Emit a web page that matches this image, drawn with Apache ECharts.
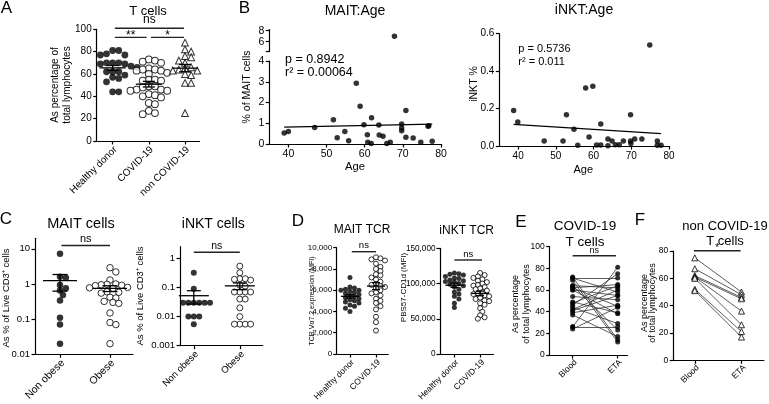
<!DOCTYPE html>
<html><head><meta charset="utf-8">
<script src="https://cdn.jsdelivr.net/npm/echarts@6/dist/echarts.min.js"></script>
<style>html,body{margin:0;padding:0;background:#fff}#c{width:769px;height:404px}</style>
</head><body><div id="c"></div><script>
// ---------------- DATA ----------------
const tcellCats = ['Healthy donor', 'COVID-19', 'non COVID-19'];
const tcellHealthy = [81, 81, 78, 77, 77, 70, 70, 70, 69, 69, 67, 66, 66, 66, 62, 62, 62, 59, 57, 56, 53, 44, 44];
const tcellCovid = [73, 72, 71, 70, 65, 64, 64, 63, 63, 61, 60, 55, 55, 54, 54, 49, 49, 48, 46, 46, 45, 45, 42, 41, 40, 39, 34, 33, 27, 25, 24];
const tcellNonCovid = [88, 82, 80, 76, 75, 72, 70, 66, 65, 64, 63, 63, 62, 60, 59, 52, 52, 25];

const maitAges = [38.9, 40, 46.9, 51.8, 52.8, 54.8, 55.8, 57.8, 58.8, 59.8, 60.7, 60.8, 61.7, 61.8, 63.7, 63.8, 64.8, 65.8, 66.7, 67.8, 69.7, 69.7, 69.7, 70.8, 70.8, 72.7, 74.7, 76.6, 76.8, 77.7];
const maitPct = [0.53, 0.6, 0.8, 1.17, 0.3, 0.6, 0.16, 2.93, 1.82, 0.93, 0.45, 0.08, 0.02, 1.26, 0.91, 0.43, 0.37, 0.02, 0.08, 7.0, 0.96, 0.77, 0.64, 1.62, 0.32, 0.29, 0.08, 0.85, 0.88, 0.13];
const inktAges = [38.8, 39.9, 46.9, 51.9, 52.8, 54.8, 55.8, 57.9, 58.8, 59.8, 60.8, 61.9, 61.9, 63.8, 63.8, 64.9, 65.8, 66.8, 67.9, 69.8, 69.8, 69.9, 70.9, 72.8, 74.9, 76.9, 76.9, 77.9];
const inktPct = [0.19, 0.128, 0.027, 0.027, 0.167, 0.089, 0.004, 0.31, 0.048, 0.319, 0.005, 0.005, 0.117, 0.037, 0.002, 0.027, 0.007, 0.007, 0.027, 0.167, 0.027, 0.014, 0.037, 0.037, 0.54, 0.027, 0.004, 0.004];
const maitStats = ['p = 0.8942', 'r² = 0.00064'];
const inktStats = ['p = 0.5736', 'r² = 0.011'];

const obeseCats = ['Non obese', 'Obese'];
const maitNonObese = [7.2, 1.6, 1.5, 0.94, 0.76, 0.65, 0.49, 0.34, 0.11, 0.07, 0.02];
const maitObese = [2.9, 2.2, 1.3, 1.0, 0.98, 0.95, 0.92, 0.9, 0.8, 0.78, 0.75, 0.6, 0.58, 0.55, 0.42, 0.4, 0.32, 0.3, 0.28, 0.15, 0.08, 0.07, 0.02];
const inktNonObese = [0.32, 0.09, 0.03, 0.03, 0.03, 0.03, 0.03, 0.03, 0.01, 0.01, 0.01, 0.0055];
const inktObese = [0.54, 0.32, 0.2, 0.19, 0.18, 0.2, 0.12, 0.11, 0.07, 0.07, 0.07, 0.07, 0.04, 0.04, 0.02, 0.01, 0.0055, 0.0055, 0.0055, 0.0055];

const tcrCats = ['Healthy donor', 'COVID-19'];
const maitTcrHealthy = [7200, 6300, 6200, 6100, 6000, 6000, 5900, 5800, 5700, 5600, 5500, 5400, 5300, 5200, 5100, 5000, 4900, 4800, 4600, 4500, 4300, 4000];
const maitTcrCovid = [9100, 9000, 8900, 8800, 8500, 8200, 8000, 7800, 7500, 7400, 7200, 7000, 6800, 6600, 6500, 6400, 6300, 6200, 6000, 5800, 5700, 5500, 5200, 5000, 4800, 4500, 4200, 3500, 3000, 2200];
const inktTcrHealthy = [115000, 114000, 113000, 112000, 110000, 108000, 107000, 105000, 104000, 103000, 102000, 100000, 99000, 97000, 95000, 92000, 88000, 85000, 82000, 78000, 72000, 66000];
const inktTcrCovid = [115000, 112000, 110000, 108000, 106000, 104000, 102000, 100000, 98000, 97000, 95000, 93000, 92000, 90000, 88000, 86000, 85000, 83000, 82000, 80000, 78000, 76000, 75000, 72000, 70000, 65000, 60000, 55000, 52000, 50000];

const pairCats = ['Blood', 'ETA'];
const covidBlood = [72, 71, 69, 64, 62, 60, 62, 54, 49, 46, 44, 42, 39, 37, 26, 24, 48, 64, 71, 41, 26, 60];
const covidEta = [14, 58, 12, 62, 65, 55, 45, 51, 39, 75, 29, 60, 46, 17, 81, 44, 64, 23, 71, 55, 26, 38];
const nonCovidBlood = [75, 67, 62, 61, 61, 60, 52, 51];
const nonCovidEta = [50, 48, 46, 45, 36, 26, 21, 17];

// ---------------- BUILD ----------------
const FONT = '"Liberation Sans", Arial, Helvetica, sans-serif';
const grids = [], xAxes = [], yAxes = [], series = [], graphics = [];
const AX = { color: '#000', width: 1.2 };

function meanSem(v) {
  const n = v.length, m = v.reduce((a, b) => a + b, 0) / n;
  const sd = Math.sqrt(v.reduce((a, b) => a + (b - m) * (b - m), 0) / (n - 1));
  return [m, sd / Math.sqrt(n)];
}
function swarm(vals, pxY, d) {
  const order = vals.map((v, i) => i).sort((a, b) => vals[b] - vals[a]);
  const placed = [], off = new Array(vals.length).fill(0);
  const step = d * 0.45, minD = d * 0.8;
  for (const i of order) {
    const y = vals[i] * pxY;
    for (let k = 0; k < 80; k++) {
      const x = k === 0 ? 0 : (k % 2 ? 1 : -1) * Math.ceil(k / 2) * step;
      if (placed.every(p => (p[0] - x) ** 2 + (p[1] - y) ** 2 >= minD * minD)) { off[i] = x; placed.push([x, y]); break; }
    }
  }
  return off;
}
function addGrid(r) {
  grids.push({ left: r.l, top: r.t, width: r.w, height: r.h, containLabel: false, outerBoundsMode: 'none' });
  return grids.length - 1;
}
function valueAxis(gi, o) {
  const ax = {
    type: 'value', gridIndex: gi, min: o.min, max: o.max, show: o.show !== false,
    axisLine: { show: true, onZero: false, lineStyle: AX },
    axisTick: { show: true, length: o.tickLen || 3.5, lineStyle: AX },
    axisLabel: { show: o.noLabel ? false : true, color: '#000', fontSize: o.fs, fontFamily: FONT, margin: o.margin || 5, hideOverlap: false, showMinLabel: true, showMaxLabel: true },
    splitLine: { show: false }
  };
  if (o.interval) ax.interval = o.interval;
  if (o.ticks) { ax.axisTick.customValues = o.ticks; ax.axisLabel.customValues = o.labels || o.ticks; }
  if (o.fmt) ax.axisLabel.formatter = o.fmt;
  return ax;
}
function meanRender(W, C) {
  return function (params, api) {
    const x = api.value(0), m = api.value(1), lo = api.value(2), hi = api.value(3);
    const pm = api.coord([x, m]), pl = api.coord([x, lo]), ph = api.coord([x, hi]);
    const st = { stroke: '#000', lineWidth: 1.3 };
    return { type: 'group', children: [
      { type: 'line', shape: { x1: pm[0] - W / 2, y1: pm[1], x2: pm[0] + W / 2, y2: pm[1] }, style: st },
      { type: 'line', shape: { x1: pl[0], y1: pl[1], x2: ph[0], y2: ph[1] }, style: st },
      { type: 'line', shape: { x1: pl[0] - C / 2, y1: pl[1], x2: pl[0] + C / 2, y2: pl[1] }, style: st },
      { type: 'line', shape: { x1: ph[0] - C / 2, y1: ph[1], x2: ph[0] + C / 2, y2: ph[1] }, style: st }
    ] };
  };
}
function sigSeries(gi, items, fs, tr) {
  return {
    type: 'custom', xAxisIndex: gi, yAxisIndex: gi, clip: false, silent: true, z: 5,
    data: items.map(s => [s.x1, s.x2, tr(s.y)]),
    renderItem: (params, api) => {
      const s = items[params.dataIndex];
      const a = api.coord([api.value(0), api.value(2)]), b = api.coord([api.value(1), api.value(2)]);
      return { type: 'group', children: [
        { type: 'line', shape: { x1: a[0], y1: a[1], x2: b[0], y2: a[1] }, style: { stroke: '#222', lineWidth: 1.4 } },
        { type: 'text', style: { text: s.text, x: (a[0] + b[0]) / 2, y: a[1] - (s.dy == null ? 1 : s.dy), align: 'center', verticalAlign: 'bottom', fontSize: fs, fontFamily: FONT, fill: '#000' } }
      ] };
    }
  };
}
// rotated (45°) category tick labels, anchored at each category tick through the axis scale
function catLabelSeries(gi, cats, fs, yBase, dx, dy) {
  return {
    type: 'custom', xAxisIndex: gi, yAxisIndex: gi, clip: false, silent: true, z: 5,
    data: cats.map((c, i) => [i, yBase]),
    renderItem: (params, api) => {
      const p = api.coord([api.value(0), api.value(1)]);
      return { type: 'text', x: p[0] + dx, y: p[1] + dy, rotation: Math.PI / 4,
        style: { text: cats[params.dataIndex], x: 0, y: 0, align: 'right', verticalAlign: 'middle', fontSize: fs, fontFamily: FONT, fill: '#000' } };
    }
  };
}
function markerStyle(kind) {
  if (kind === 'filled') return { symbol: 'circle', itemStyle: { color: '#000', borderWidth: 0 } };
  if (kind === 'open') return { symbol: 'circle', itemStyle: { color: '#fff', borderColor: '#000', borderWidth: 1 } };
  return { symbol: 'triangle', itemStyle: { color: '#fff', borderColor: '#000', borderWidth: 1 } };
}
function dotPanel(c) {
  const gi = addGrid(c.rect);
  const tr = c.log ? (v => Math.log10(v)) : (v => v);
  const idx = c.cats.map((_, i) => i);
  xAxes.push(valueAxis(gi, { min: c.xMin, max: c.xMax, fs: c.xfs, ticks: idx, noLabel: true }));
  const yo = { min: c.yMin, max: c.yMax, fs: c.yfs, interval: c.yInterval, fmt: c.yFmt, margin: c.yMargin };
  if (c.yTicks) yo.ticks = c.yTicks;
  yAxes.push(valueAxis(gi, yo));
  const pxY = c.rect.h / (c.yMax - c.yMin), pxX = c.rect.w / (c.xMax - c.xMin);
  c.groups.forEach((g, k) => {
    const ty = g.vals.map(tr);
    const offs = swarm(ty, pxY, c.size);
    const ms = markerStyle(g.kind);
    series.push({ type: 'scatter', xAxisIndex: gi, yAxisIndex: gi, symbol: ms.symbol, symbolSize: c.size, itemStyle: ms.itemStyle, z: 2, silent: true,
      data: ty.map((y, i) => [k + offs[i] / pxX, y]) });
    const [m, se] = meanSem(g.vals);
    series.push({ type: 'custom', xAxisIndex: gi, yAxisIndex: gi, z: 3, silent: true, clip: false,
      data: [[k, tr(m), tr(Math.max(m - se, 1e-9)), tr(m + se)]], renderItem: meanRender(c.meanW, c.capW) });
  });
  series.push(catLabelSeries(gi, c.cats, c.xfs, c.yMin, 3, 7));
  if (c.sig) series.push(sigSeries(gi, c.sig, c.sigFs, tr));
}
function pairPanel(c) {
  const gi = addGrid(c.rect);
  xAxes.push(valueAxis(gi, { min: c.xMin, max: c.xMax, fs: c.xfs, ticks: [0, 1], noLabel: true }));
  yAxes.push(valueAxis(gi, { min: c.yMin, max: c.yMax, fs: c.yfs, interval: c.yInterval }));
  series.push({ type: 'lines', coordinateSystem: 'cartesian2d', xAxisIndex: gi, yAxisIndex: gi, silent: true, z: 2,
    lineStyle: { color: '#333', width: 0.8, opacity: 1 },
    data: c.a.map((v, i) => ({ coords: [[0, v], [1, c.b[i]]] })) });
  const ms = markerStyle(c.kind);
  series.push({ type: 'scatter', xAxisIndex: gi, yAxisIndex: gi, symbol: ms.symbol, symbolSize: c.size, itemStyle: ms.itemStyle, z: 3, silent: true,
    data: c.a.map(v => [0, v]).concat(c.b.map(v => [1, v])) });
  series.push(catLabelSeries(gi, c.cats, c.xfs, c.yMin, 3, 6));
  if (c.sig) series.push(sigSeries(gi, c.sig, c.sigFs, v => v));
}
function linfit(xs, ys) {
  const n = xs.length, mx = xs.reduce((a, b) => a + b, 0) / n, my = ys.reduce((a, b) => a + b, 0) / n;
  let sxy = 0, sxx = 0;
  for (let i = 0; i < n; i++) { sxy += (xs[i] - mx) * (ys[i] - my); sxx += (xs[i] - mx) ** 2; }
  const b = sxy / sxx, a = my - b * mx;
  const x0 = Math.min(...xs), x1 = Math.max(...xs);
  return [[x0, a + b * x0], [x1, a + b * x1]];
}
function ageAxisX(gi, fs, show) {
  return valueAxis(gi, { min: 35, max: 80, fs: fs, ticks: [40, 50, 60, 70, 80], show: show });
}
function txt(t, x, y, fs, opt) {
  opt = opt || {};
  graphics.push({ type: 'text', x: x, y: y, rotation: opt.rot ? Math.PI / 2 : 0, silent: true,
    style: { text: t, x: 0, y: 0, align: 'center', verticalAlign: 'middle', fontSize: fs, fontFamily: FONT, fill: '#000', lineHeight: opt.lh || fs * 1.15 } });
}
function ltxt(t, x, y, fs) {
  graphics.push({ type: 'text', x: x, y: y, silent: true, style: { text: t, align: 'left', verticalAlign: 'middle', fontSize: fs, fontFamily: FONT, fill: '#000' } });
}

// Panel A
dotPanel({ rect: { l: 96.7, t: 29.3, w: 102.8, h: 111.7 }, xMin: -0.44, xMax: 2.4, yMin: 0, yMax: 100, yInterval: 20,
  cats: tcellCats, xfs: 10, yfs: 10, size: 6.8, meanW: 26, capW: 12, sigFs: 12,
  groups: [{ vals: tcellHealthy, kind: 'filled' }, { vals: tcellCovid, kind: 'open' }, { vals: tcellNonCovid, kind: 'tri' }],
  sig: [{ x1: 0.06, x2: 1.97, y: 101, text: 'ns', dy: 2 }, { x1: 0.06, x2: 0.94, y: 92.8, text: '**', dy: -4 }, { x1: 1.06, x2: 1.97, y: 92.8, text: '*', dy: -4 }] });
txt('A', 6.5, 8.5, 17);
txt('T cells', 148, 11, 13);
txt('As percentage of\ntotal lymphocytes', 61, 85, 10, { rot: true, lh: 12 });

// Panel B - MAIT
const gBL = addGrid({ l: 269.3, t: 61, w: 171.7, h: 83 });
const gBU = addGrid({ l: 269.3, t: 29.6, w: 171.7, h: 22 });
xAxes.push(ageAxisX(gBL, 10.5, true));
yAxes.push(valueAxis(gBL, { min: 0, max: 4, interval: 1, fs: 10.5 }));
xAxes.push(ageAxisX(gBU, 10.5, false));
yAxes.push(valueAxis(gBU, { min: 4.2, max: 8.2, fs: 10.5, ticks: [4.2, 6, 8], labels: [6, 8] }));
series.push({ type: 'scatter', xAxisIndex: gBL, yAxisIndex: gBL, symbol: 'circle', symbolSize: 5.5, itemStyle: { color: '#000' }, silent: true,
  data: maitAges.map((a, i) => [a, maitPct[i]]).filter(p => p[1] <= 4) });
series.push({ type: 'scatter', xAxisIndex: gBU, yAxisIndex: gBU, symbol: 'circle', symbolSize: 5.5, itemStyle: { color: '#000' }, silent: true,
  data: maitAges.map((a, i) => [a, maitPct[i]]).filter(p => p[1] > 4) });
series.push({ type: 'line', xAxisIndex: gBL, yAxisIndex: gBL, symbol: 'none', silent: true, lineStyle: { color: '#000', width: 1.2 }, data: linfit(maitAges, maitPct) });
txt('B', 244.5, 8.5, 17);
txt('MAIT:Age', 355, 11.5, 14);
txt('% of MAIT cells', 247.3, 87, 10.5, { rot: true });
txt('Age', 355, 167, 11.2);
ltxt(maitStats[0], 285, 60, 12.5);
ltxt(maitStats[1], 285, 72.7, 12.5);

// Panel B - iNKT
const gBI = addGrid({ l: 499.3, t: 33.7, w: 169.7, h: 112.3 });
xAxes.push(ageAxisX(gBI, 10, true));
yAxes.push(valueAxis(gBI, { min: 0, max: 0.6, interval: 0.2, fs: 10, fmt: v => v.toFixed(1) }));
series.push({ type: 'scatter', xAxisIndex: gBI, yAxisIndex: gBI, symbol: 'circle', symbolSize: 5.5, itemStyle: { color: '#000' }, silent: true,
  data: inktAges.map((a, i) => [a, inktPct[i]]) });
series.push({ type: 'line', xAxisIndex: gBI, yAxisIndex: gBI, symbol: 'none', silent: true, lineStyle: { color: '#000', width: 1.2 }, data: linfit(inktAges, inktPct) });
txt('iNKT:Age', 584, 10.5, 14);
txt('iNKT %', 474, 84, 10.5, { rot: true });
txt('Age', 583.3, 170, 11);
ltxt(inktStats[0], 518.3, 49.3, 11);
ltxt(inktStats[1], 518.3, 61.7, 11);

// Panel C
const logFmt = v => String(Number(Math.pow(10, v).toPrecision(1)));
dotPanel({ rect: { l: 35, t: 238.3, w: 98, h: 116 }, xMin: -0.5, xMax: 1.46, yMin: -2, yMax: 1.3, yTicks: [-2, -1, 0, 1], yFmt: logFmt, log: true,
  cats: obeseCats, xfs: 10.5, yfs: 9.5, size: 6.5, meanW: 34, capW: 15, sigFs: 11,
  groups: [{ vals: maitNonObese, kind: 'filled' }, { vals: maitObese, kind: 'open' }],
  sig: [{ x1: 0.03, x2: 1.0, y: 12.4, text: 'ns', dy: 1 }] });
txt('C', 6, 219, 17);
txt('MAIT cells', 81, 224, 14.5);
txt('As % of Live CD3⁺ cells', 6, 298, 9.5, { rot: true });
dotPanel({ rect: { l: 180, t: 246.7, w: 82.8, h: 99 }, xMin: -0.3, xMax: 1.5, yMin: -3, yMax: 0.4, yTicks: [-3, -2, -1, 0], yFmt: logFmt, log: true,
  cats: obeseCats, xfs: 9.5, yfs: 9.5, size: 6, meanW: 30, capW: 14, sigFs: 10.5,
  groups: [{ vals: inktNonObese, kind: 'filled' }, { vals: inktObese, kind: 'open' }],
  sig: [{ x1: 0, x2: 1.0, y: 1.61, text: 'ns', dy: 1 }] });
txt('iNKT cells', 213.3, 224, 14);
txt('As % of Live CD3⁺ cells', 140, 296, 9.5, { rot: true });

// Panel D
const commaFmt = v => Number(v).toLocaleString('en-US');
dotPanel({ rect: { l: 336.7, t: 247.7, w: 51.5, h: 106.3 }, xMin: -0.51, xMax: 1.47, yMin: 0, yMax: 10000, yInterval: 2000, yFmt: commaFmt, yMargin: 4.5,
  cats: tcrCats, xfs: 8.5, yfs: 8, size: 5, meanW: 18, capW: 8, sigFs: 9.5,
  groups: [{ vals: maitTcrHealthy, kind: 'filled' }, { vals: maitTcrCovid, kind: 'open' }],
  sig: [{ x1: 0.07, x2: 1.0, y: 9624, text: 'ns', dy: 1 }] });
txt('D', 298, 221.5, 17);
txt('MAIT TCR', 362, 230, 12);
txt('TCR Vα7.2 expression (MFI)', 311.8, 301, 7, { rot: true });
dotPanel({ rect: { l: 440, t: 248.3, w: 53.5, h: 105.7 }, xMin: -0.56, xMax: 1.52, yMin: 0, yMax: 150000, yInterval: 50000, yFmt: commaFmt, yMargin: 4.5,
  cats: tcrCats, xfs: 8.5, yfs: 8.2, size: 5, meanW: 18, capW: 8, sigFs: 9.5,
  groups: [{ vals: inktTcrHealthy, kind: 'filled' }, { vals: inktTcrCovid, kind: 'open' }],
  sig: [{ x1: 0, x2: 1.07, y: 133400, text: 'ns', dy: 1 }] });
txt('iNKT TCR', 466.7, 231, 12);
txt('PBS57-CD1d (MFI)', 404.2, 287.5, 8, { rot: true });

// Panel E
pairPanel({ rect: { l: 549.7, t: 246.7, w: 77.9, h: 108.3 }, xMin: -0.51, xMax: 1.22, yMin: 0, yMax: 100, yInterval: 20,
  cats: pairCats, xfs: 8.5, yfs: 8.5, size: 5, kind: 'filled', a: covidBlood, b: covidEta, sigFs: 9,
  sig: [{ x1: 0, x2: 0.96, y: 91.7, text: 'ns', dy: 0.5 }] });
txt('E', 521, 222, 17);
txt('COVID-19\nT cells', 585, 234.5, 13.5, { lh: 16 });
txt('As percentage\nof total lymphocytes', 521, 304, 9, { rot: true, lh: 10.5 });

// Panel F
pairPanel({ rect: { l: 673.3, t: 251, w: 90.6, h: 109.3 }, xMin: -0.46, xMax: 1.48, yMin: 0, yMax: 80, yInterval: 20,
  cats: pairCats, xfs: 8.5, yfs: 8.5, size: 6, kind: 'tri', a: nonCovidBlood, b: nonCovidEta, sigFs: 10,
  sig: [{ x1: -0.02, x2: 0.98, y: 80.2, text: '*', dy: -3 }] });
txt('F', 640, 220, 17);
txt('non COVID-19\nT cells', 725, 234, 13, { lh: 15 });
txt('As percentage\nof total lymphocytes', 648.5, 303, 9, { rot: true, lh: 8.5 });

const chart = echarts.init(document.getElementById('c'), null, { renderer: 'canvas' });
chart.setOption({
  animation: false, backgroundColor: '#fff',
  textStyle: { fontFamily: FONT },
  grid: grids, xAxis: xAxes, yAxis: yAxes, series: series, graphic: { elements: graphics }
});
</script></body></html>
